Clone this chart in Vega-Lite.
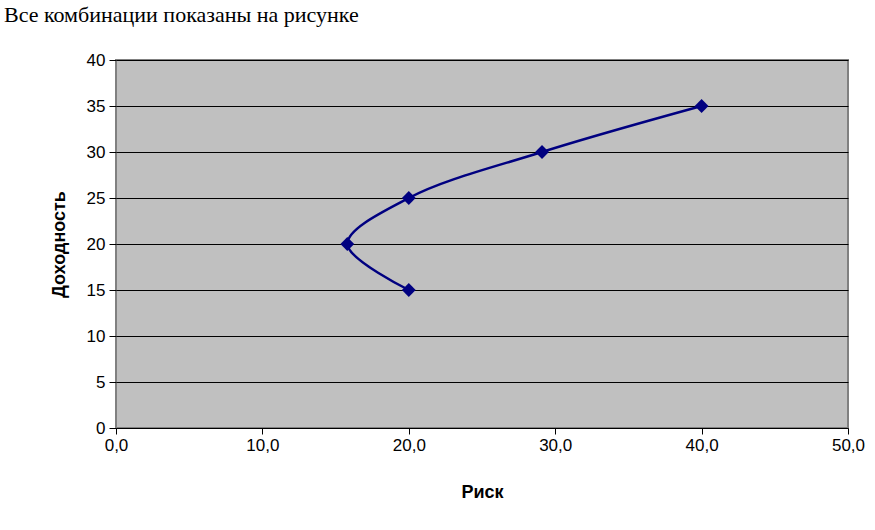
{
  "$schema": "https://vega.github.io/schema/vega-lite/v6.json",
  "autosize": "none",
  "width": 732,
  "height": 368,
  "padding": {"left": 116, "top": 60, "right": 27, "bottom": 102},
  "background": "white",
  "title": {
    "text": "Все комбинации показаны на рисунке",
    "font": "Liberation Serif",
    "fontSize": 22,
    "fontWeight": "normal",
    "color": "black",
    "anchor": "start",
    "frame": "group",
    "offset": 24,
    "dx": -112
  },
  "data": {
    "values": [
      {"risk": 20.0, "ret": 15},
      {"risk": 15.8, "ret": 20},
      {"risk": 20.0, "ret": 25},
      {"risk": 29.1, "ret": 30},
      {"risk": 40.0, "ret": 35}
    ]
  },
  "config": {
    "view": {"fill": "#C0C0C0", "stroke": "#808080", "strokeWidth": 2}
  },
  "encoding": {
    "x": {
      "field": "risk",
      "type": "quantitative",
      "scale": {"domain": [0, 50], "nice": false, "zero": true},
      "axis": {
        "title": "Риск",
        "values": [0, 10, 20, 30, 40, 50],
        "labelExpr": "replace(format(datum.value, '.1f'), '.', ',')",
        "grid": false,
        "domain": false,
        "tickColor": "black",
        "tickSize": 6,
        "labelFont": "Liberation Sans",
        "labelFontSize": 17,
        "labelColor": "black",
        "labelPadding": 3,
        "labelFlush": false,
        "titleFont": "Liberation Sans",
        "titleFontSize": 18,
        "titleFontWeight": "bold",
        "titleColor": "black",
        "titlePadding": 30
      }
    },
    "y": {
      "field": "ret",
      "type": "quantitative",
      "scale": {"domain": [0, 40], "nice": false},
      "axis": {
        "title": "Доходность",
        "values": [0, 5, 10, 15, 20, 25, 30, 35, 40],
        "grid": true,
        "gridColor": "black",
        "gridOpacity": 1,
        "gridWidth": 1,
        "domain": false,
        "tickColor": "black",
        "tickSize": 7,
        "labelFont": "Liberation Sans",
        "labelFontSize": 17,
        "labelColor": "black",
        "labelPadding": 4,
        "labelFlush": false,
        "titleFont": "Liberation Sans",
        "titleFontSize": 18,
        "titleFontWeight": "bold",
        "titleColor": "black",
        "titlePadding": 18
      }
    },
    "order": {"field": "ret", "type": "quantitative"}
  },
  "layer": [
    {
      "mark": {"type": "line", "color": "#000080", "strokeWidth": 2.5, "interpolate": "catmull-rom"}
    },
    {
      "mark": {"type": "point", "shape": "diamond", "filled": true, "color": "#000080", "size": 190, "opacity": 1}
    }
  ]
}
